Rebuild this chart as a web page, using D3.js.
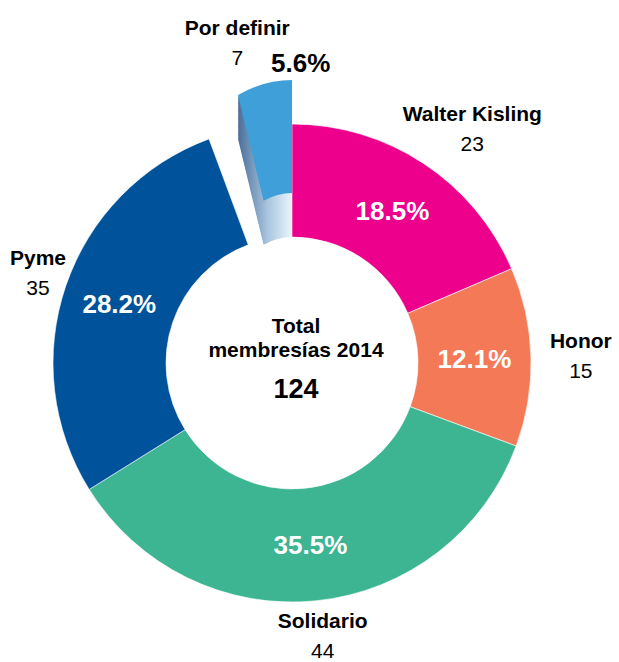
<!DOCTYPE html>
<html>
<head>
<meta charset="utf-8">
<script src="https://cdn.jsdelivr.net/npm/d3@7"></script>
<style>
  body { margin: 0; background: #fff; }
  text { font-family: "Liberation Sans", Arial, sans-serif; }
</style>
</head>
<body>
<div id="chart"></div>
<script>
// data
var categories = ["Walter Kisling", "Honor", "Solidario", "Pyme", "Por definir"];
var members = [23, 15, 44, 35, 7];
var colors = ["#ec008c", "#f47a57", "#3db592", "#00529b", "#3f9fd9"];
var centerLines = ["Total", "membresías 2014"];

var width = 619, height = 662;
var cx = 292, cy = 363, outerR = 239, innerR = 126;
var explode = 44, squeeze = 0.65, labelR = 258;

var total = d3.sum(members);
var data = categories.map(function(c, i) {
    return {name: c, value: members[i], color: colors[i]};
});

var pie = d3.pie().sort(null).value(function(d) { return d.value; });
var arc = d3.arc().innerRadius(innerR).outerRadius(outerR);
var fmt = d3.format(".1%");

var svg = d3.select("#chart")
    .append("svg")
    .attr("width", width)
    .attr("height", height);

// shading for the side of the pulled-out slice
var side = svg.append("defs").append("linearGradient")
    .attr("id", "side")
    .attr("gradientUnits", "userSpaceOnUse")
    .attr("x1", -83).attr("x2", 0).attr("y1", 0).attr("y2", 0);
side.append("stop").attr("offset", "0%").attr("stop-color", "#4a6e9a");
side.append("stop").attr("offset", "55%").attr("stop-color", "#a9c5df");
side.append("stop").attr("offset", "100%").attr("stop-color", "#eaf5fb");

var arcs = pie(data);
function isSmall(d) { return d.data.value / total < 0.08; }

var g = svg.append("g")
    .attr("transform", "translate(" + cx + "," + cy + ")");

g.selectAll("path.slice")
    .data(arcs.filter(function(d) { return !isSmall(d); }))
    .enter()
    .append("path")
    .attr("class", "slice")
    .attr("d", arc)
    .attr("fill", function(d) { return d.data.color; })
    .attr("stroke", "#fff")
    .attr("stroke-width", 0.6);

// exploded slice with some depth
var steps = d3.range(0, explode, 2);
arcs.filter(isSmall).forEach(function(d) {
    var eg = g.append("g");
    eg.selectAll("path.depth")
        .data(steps)
        .enter()
        .append("path")
        .attr("class", "depth")
        .attr("d", arc(d))
        .attr("fill", "url(#side)")
        .attr("transform", function(k) { return "translate(0," + (-k) + ") scale(" + squeeze + ",1)"; });
    eg.append("path")
        .attr("d", arc(d))
        .attr("fill", d.data.color)
        .attr("transform", "translate(0," + (-explode) + ") scale(" + squeeze + ",1)");
});

// percent labels inside the ring
g.selectAll("text.pct")
    .data(arcs.filter(function(d) { return !isSmall(d); }))
    .enter()
    .append("text")
    .attr("class", "pct")
    .attr("transform", function(d) { return "translate(" + arc.centroid(d) + ")"; })
    .attr("text-anchor", "middle")
    .attr("dy", "0.36em")
    .style("font-size", "26px")
    .style("font-weight", "bold")
    .attr("fill", "#fff")
    .text(function(d) { return fmt(d.data.value / total); });

// outside labels: name + count
arcs.forEach(function(d) {
    var a = (d.startAngle + d.endAngle) / 2;
    var lg = g.append("g");
    var name = lg.append("text")
        .attr("text-anchor", "middle")
        .style("font-size", "21px")
        .style("font-weight", "bold")
        .attr("fill", "#000")
        .text(d.data.name);
    var val = lg.append("text")
        .attr("text-anchor", "middle")
        .style("font-size", "21px")
        .attr("fill", "#000")
        .text(d.data.value);
    var w = Math.max(name.node().getBBox().width, val.node().getBBox().width);
    var h = 46;
    var shift = isSmall(d) ? explode : 0;
    var x = Math.sin(a) * labelR + Math.sin(a) * w / 2;
    var y = -Math.cos(a) * labelR - shift - Math.cos(a) * h / 2;
    // keep the label inside the page
    x = Math.max(-cx + w / 2 + 10, Math.min(width - cx - w / 2 - 6, x));
    y = Math.min(height - cy - 27, y);
    name.attr("x", x).attr("y", y - 7.5);
    val.attr("x", x).attr("y", y + 22.5);
    if (isSmall(d)) {
        var vb = val.node().getBBox();
        lg.append("text")
            .attr("x", vb.x + vb.width + 28)
            .attr("y", y + 29.5)
            .style("font-size", "26px")
            .style("font-weight", "bold")
            .attr("fill", "#000")
            .text(fmt(d.data.value / total));
    }
});

// center text
var ct = g.append("g").attr("text-anchor", "middle").attr("fill", "#000");
ct.selectAll("text.line")
    .data(centerLines)
    .enter()
    .append("text")
    .attr("class", "line")
    .attr("x", 4)
    .attr("y", function(d, i) { return -30 + i * 24; })
    .style("font-size", "21px")
    .style("font-weight", "bold")
    .text(function(d) { return d; });
ct.append("text")
    .attr("x", 4)
    .attr("y", 35)
    .style("font-size", "27px")
    .style("font-weight", "bold")
    .text(total);
</script>
</body>
</html>
